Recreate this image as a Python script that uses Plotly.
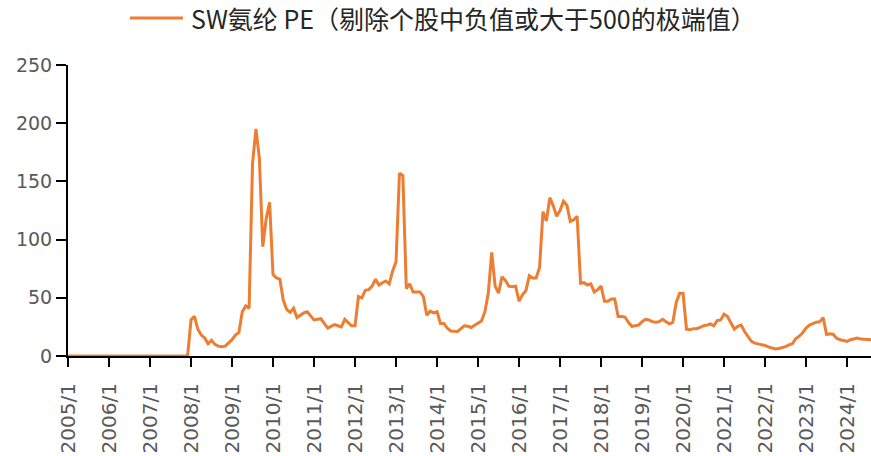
import plotly.graph_objects as go

years = list(range(2005, 2025))
months = [f"{y}/{m}" for y in range(2005, 2025) for m in range(1, 13)][:236]
tick_labels = [f"{y}/1" for y in years]

pe_values = (
    [0] * 36
    + [31, 34, 23, 18, 15.5, 10.5, 13.5, 10, 8.5, 8, 8.5, 11]          # 2008
    + [14, 18, 20, 38, 43, 41, 165, 195, 170, 94, 118, 132]             # 2009
    + [70, 67, 66, 48, 40, 37.5, 41, 33, 35, 37, 38, 34]                # 2010
    + [31, 31.5, 32, 28, 24, 25.5, 27, 26, 25, 31.5, 28.5, 26]          # 2011
    + [26, 51, 50, 56.5, 57, 60, 66, 61, 63, 64.5, 62, 73]              # 2012
    + [81, 157, 155, 58, 62, 55, 55, 55, 51, 35, 38.5, 37]              # 2013
    + [38, 28, 28, 24, 21.5, 21, 21, 23.5, 26, 25.5, 24.5, 26.5]        # 2014
    + [28, 30, 38, 54, 89, 60, 54, 68, 65, 60, 59.5, 60]                # 2015
    + [47, 52.5, 56, 69, 67, 67, 76, 124, 116, 136, 129, 120]           # 2016
    + [125, 133, 129.5, 115.5, 117, 120, 62.5, 63, 61, 62, 55, 57]      # 2017
    + [60, 47, 47, 49, 49, 34, 34, 33.5, 29, 25.5, 26, 26.5]            # 2018
    + [29.5, 31.5, 31, 29.5, 29, 29.5, 31.5, 29.5, 27.5, 29, 46, 54]    # 2019
    + [54, 23, 22.5, 23.5, 23.5, 24.5, 26, 26.5, 27.5, 26, 30.5, 31]    # 2020
    + [36, 34, 28.5, 23, 25.5, 26.5, 21, 16.5, 12.5, 11, 10.5, 10]      # 2021
    + [9, 7.8, 7, 6, 6.5, 7, 8, 9.5, 10.5, 15, 17, 20]                  # 2022
    + [24, 26.5, 28, 29, 29.5, 33, 18.5, 19, 18.5, 15, 14, 13]          # 2023
    + [12.5, 14, 14.5, 15.5, 14.5, 14.5, 14.5, 14]                      # 2024
)

series_name = "SW氨纶 PE（剔除个股中负值或大于500的极端值）"
line_color = "#ED7D31"

fig = go.Figure()
fig.add_trace(go.Scatter(
    x=months[:len(pe_values)],
    y=pe_values,
    mode="lines",
    name=series_name,
    line=dict(color=line_color, width=3),
    showlegend=False,
))

# legend drawn as key line + label (does not push the margins)
legend_y = 1.1615
fig.add_shape(type="line", xref="paper", yref="paper",
              x0=0.0772, x1=0.1432, y0=legend_y, y1=legend_y,
              line=dict(color=line_color, width=3))
fig.add_annotation(xref="paper", yref="paper", x=0.1519, y=legend_y,
                   xanchor="left", yanchor="middle", showarrow=False,
                   text=series_name, borderpad=0,
                   font=dict(family="Noto Sans CJK SC", size=25, color="#262626"))

axis_font = dict(family="DejaVu Sans", size=19, color="#595959")

fig.update_layout(
    width=871,
    height=456,
    margin=dict(l=68, r=0, t=65, b=100),
    paper_bgcolor="white",
    plot_bgcolor="white",
    showlegend=False,
    xaxis=dict(
        type="category",
        range=[0, len(pe_values) - 1],
        tickmode="array",
        tickvals=tick_labels,
        ticktext=tick_labels,
        tickangle=-90,
        ticks="outside",
        ticklen=9,
        tickwidth=2,
        tickcolor="black",
        showline=True,
        linecolor="black",
        linewidth=2,
        showgrid=False,
        zeroline=False,
        automargin=False,
        tickfont=dict(family="DejaVu Sans", size=20, color="#595959"),
        ticklabelstandoff=8,
    ),
    yaxis=dict(
        range=[0, 250],
        tickmode="linear",
        tick0=0,
        dtick=50,
        ticks="outside",
        ticklen=10,
        tickwidth=2,
        tickcolor="black",
        showline=True,
        linecolor="black",
        linewidth=2,
        showgrid=False,
        zeroline=False,
        automargin=False,
        tickfont=axis_font,
    ),
)

fig.write_html("out.html",
               config={"displayModeBar": False},
               post_script="document.body.style.margin='0';document.body.style.overflow='hidden';")
